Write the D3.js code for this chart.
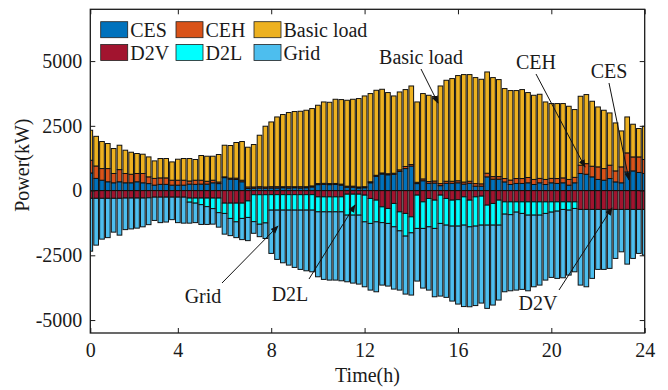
<!DOCTYPE html>
<html>
<head>
<meta charset="utf-8">
<script src="https://cdn.jsdelivr.net/npm/d3@7"></script>
<style>
  body { margin: 0; background: #fff; }
  svg { display: block; }
  text { font-family: "Liberation Serif", "Times New Roman", serif; fill: #1a1a1a; }
</style>
</head>
<body>
<svg id="chart" width="668" height="390"></svg>
<script>
// 96 quarter-hour dispatch slots, power in kW (discharge/supply positive, absorption negative)
const ces = [680,470,400,340,300,340,300,300,340,300,270,210,240,240,210,210,210,250,240,250,250,300,270,500,
  440,430,340,80,90,100,90,100,100,110,100,110,100,110,140,230,240,230,235,210,130,130,100,110,
  300,550,640,610,630,740,850,945,270,380,280,290,190,280,280,300,250,280,170,170,530,440,440,335,
  235,275,275,300,235,300,235,300,275,300,210,300,660,630,530,430,400,465,335,300,720,760,700,660];
const ceh = [490,480,450,510,360,470,360,330,320,360,260,260,250,250,190,190,190,120,160,150,110,100,60,30,
  40,50,60,60,50,50,50,50,50,40,50,40,50,40,40,40,40,40,40,40,40,40,40,40,
  40,40,40,40,40,60,80,60,50,70,70,80,80,80,80,80,80,80,100,90,140,100,100,130,
  170,190,190,205,195,170,195,170,190,190,220,210,320,410,410,485,450,515,425,615,735,540,600,540];
const basicLoad = [1160,1145,1044,967,964,941,899,851,771,744,770,676,748,748,707,811,838,868,800,954,967,927,1063,1221,
  1260,1376,1494,1534,1638,1987,2345,2500,2693,2786,2863,2902,2913,2952,2987,3025,3142,3140,3251,3264,3318,3356,3413,3504,
  3406,3283,3232,3135,2984,3008,2970,3034,3102,3296,3330,3260,3769,3899,3965,4061,4149,4119,4093,4038,3910,3823,3746,3474,
  3457,3397,3435,3280,3250,3249,2992,2890,2895,2870,2826,2619,2662,2667,2509,2314,2252,2018,1852,1388,1388,1262,1096,1285];
const d2v = [-300,-300,-300,-300,-300,-300,-290,-290,-290,-290,-280,-255,-255,-255,-255,-255,-255,-290,-290,-290,-290,-290,-290,-486,
  -486,-486,-486,-400,-160,-160,-160,-158,-158,-158,-158,-158,-158,-158,-158,-243,-243,-243,-243,-243,-140,-140,-140,-177,
  -305,-370,-629,-691,-498,-822,-883,-1015,-177,-436,-305,-370,-177,-305,-370,-351,-243,-370,-243,-216,-563,-498,-370,-436,
  -436,-436,-436,-436,-436,-436,-436,-436,-436,-436,-436,-436,-729,-729,-729,-729,-729,-729,-729,-729,-729,-729,-729,-729];
const d2l = [0,0,0,0,0,0,0,0,0,0,0,0,0,0,0,0,0,-158,-196,-254,-331,-408,-563,-397,
  -590,-722,-590,-638,-1040,-1140,-1090,-598,-598,-598,-598,-598,-598,-598,-598,-579,-579,-579,-579,-579,-809,-809,-809,-1031,
  -964,-838,-609,-578,-902,-733,-876,-617,-1285,-1026,-1095,-1092,-1092,-1030,-1003,-1022,-1092,-1030,-1130,-1119,-772,-837,-965,-474,
  -494,-397,-447,-513,-513,-513,-447,-397,-359,-293,-320,-255,0,0,0,0,0,0,0,0,0,0,0,0];
const grid = [-2040,-1807,-1575,-1517,-1305,-1421,-1218,-1191,-1161,-1110,-1036,-899,-983,-960,-868,-983,-1003,-810,-752,-764,-687,-598,-559,-799,
  -664,-609,-818,-895,-450,-480,-600,-1671,-1902,-2033,-2122,-2211,-2288,-2342,-2381,-2507,-2608,-2635,-2635,-2662,-2573,-2624,-2662,-2507,
  -2574,-2700,-2412,-2419,-2404,-2288,-2238,-2403,-2033,-2303,-2443,-2639,-2805,-2789,-2894,-3010,-3144,-3087,-3068,-3009,-3214,-3086,-2893,-2998,
  -2940,-3010,-2933,-2921,-2766,-2701,-2574,-2520,-2596,-2639,-2508,-2446,-2921,-2986,-2662,-2315,-2315,-2276,-1891,-1636,-2111,-1891,-1698,-1763];

const seriesKeys = ["CES", "CEH", "Basic load", "D2V", "D2L", "Grid"];
const seriesData = [ces, ceh, basicLoad, d2v, d2l, grid];
const seriesColors = ["#0072BD", "#D95319", "#EDB120", "#A2142F", "#00FFFF", "#4DBEEE"];

const hourLabels = [0, 4, 8, 12, 16, 20, 24];
const hourSlots = [1, 16, 32, 48, 64, 80, 96];
const powerTicks = [-5000, -2500, 0, 2500, 5000];

const svg = d3.select("#chart");
const plot = { left: 90.3, right: 644.7, top: 9.3, bottom: 333 };

const x = d3.scaleLinear().domain([1, 96]).range([plot.left, plot.right]);
const y = d3.scaleLinear().domain([-5500, 7000]).range([plot.bottom, plot.top]);

// rows for the stack: one object per slot
const rows = ces.map((_, i) => {
  const r = { slot: i + 1 };
  seriesKeys.forEach((k, j) => r[k] = seriesData[j][i]);
  return r;
});
const stacked = d3.stack().keys(seriesKeys).offset(d3.stackOffsetDiverging)(rows);

svg.append("defs").append("clipPath").attr("id", "plotClip")
  .append("rect").attr("x", plot.left).attr("y", plot.top)
  .attr("width", plot.right - plot.left).attr("height", plot.bottom - plot.top);

const barW = 0.8 * (x(2) - x(1));
const barsG = svg.append("g").attr("clip-path", "url(#plotClip)");
stacked.forEach((layer, j) => {
  barsG.append("g").attr("fill", seriesColors[j])
    .selectAll("rect").data(layer).join("rect")
    .attr("x", d => x(d.data.slot) - barW / 2)
    .attr("width", barW)
    .attr("y", d => y(Math.max(d[0], d[1])))
    .attr("height", d => Math.abs(y(d[0]) - y(d[1])))
    .attr("stroke", "#111")
    .attr("stroke-width", 1);
});

// zero line
barsG.append("line")
  .attr("x1", plot.left).attr("x2", plot.right)
  .attr("y1", y(0)).attr("y2", y(0))
  .attr("stroke", "#111").attr("stroke-width", 1);

// axes with inward ticks on all four sides
const fmt = d => String(d);
const styleAxis = g => {
  g.select(".domain").remove();
  g.selectAll(".tick line").attr("stroke", "#1a1a1a").attr("stroke-width", 1);
  g.selectAll(".tick text").attr("font-size", 20).attr("fill", "#1a1a1a");
};
svg.append("g").attr("transform", `translate(${plot.left},0)`)
  .call(d3.axisLeft(y).tickValues(powerTicks).tickFormat(fmt).tickSize(-5).tickPadding(8))
  .call(styleAxis);
svg.append("g").attr("transform", `translate(${plot.right},0)`)
  .call(d3.axisRight(y).tickValues(powerTicks).tickFormat("").tickSize(-5))
  .call(styleAxis);
svg.append("g").attr("transform", `translate(0,${plot.bottom})`)
  .call(d3.axisBottom(x).tickValues(hourSlots).tickFormat((d, i) => hourLabels[i]).tickSize(-5).tickPadding(10))
  .call(styleAxis);
svg.append("g").attr("transform", `translate(0,${plot.top})`)
  .call(d3.axisTop(x).tickValues(hourSlots).tickFormat("").tickSize(-5))
  .call(styleAxis);

svg.append("rect")
  .attr("x", plot.left).attr("y", plot.top)
  .attr("width", plot.right - plot.left).attr("height", plot.bottom - plot.top)
  .attr("fill", "none").attr("stroke", "#1a1a1a").attr("stroke-width", 1.3);

// axis titles
svg.append("text").attr("x", (plot.left + plot.right) / 2).attr("y", 382)
  .attr("text-anchor", "middle").attr("font-size", 20).text("Time(h)");
svg.append("text").attr("transform", `translate(29,${(plot.top + plot.bottom) / 2 - 6}) rotate(-90)`)
  .attr("text-anchor", "middle").attr("font-size", 20).text("Power(kW)");

// legend: two rows of three
const legendPos = [[100.7, 21.7], [176, 21.7], [254, 21.7], [100.7, 44.5], [176, 44.5], [254, 44.5]];
const legend = svg.append("g");
seriesKeys.forEach((k, j) => {
  const [lx, ly] = legendPos[j];
  legend.append("rect").attr("x", lx).attr("y", ly).attr("width", 27).attr("height", 16)
    .attr("fill", seriesColors[j]).attr("stroke", "#222").attr("stroke-width", 0.8);
  legend.append("text").attr("x", lx + 29.5).attr("y", ly + 15.5).attr("font-size", 20).text(k);
});

// callout labels with arrows
const defs = svg.select("defs");
defs.append("marker").attr("id", "arrowHead").attr("viewBox", "0 0 10 10")
  .attr("refX", 9).attr("refY", 5).attr("markerWidth", 8).attr("markerHeight", 8)
  .attr("orient", "auto-start-reverse").attr("markerUnits", "userSpaceOnUse")
  .append("path").attr("d", "M0,1 L10,5 L0,9 Z").attr("fill", "#111");

const callouts = [
  { label: "Basic load", tx: 421, ty: 64, from: [421, 69], to: [438, 103] },
  { label: "CEH", tx: 536, ty: 69, from: [536, 74], to: [585, 167] },
  { label: "CES", tx: 609, ty: 78, from: [609, 83], to: [629, 180] },
  { label: "Grid", tx: 203, ty: 303, from: [222, 283], to: [278, 226] },
  { label: "D2L", tx: 290, ty: 301, from: [309, 279], to: [355, 205] },
  { label: "D2V", tx: 538, ty: 310, from: [559, 290], to: [612, 208] }
];
callouts.forEach(c => {
  svg.append("line")
    .attr("x1", c.from[0]).attr("y1", c.from[1]).attr("x2", c.to[0]).attr("y2", c.to[1])
    .attr("stroke", "#111").attr("stroke-width", 1).attr("marker-end", "url(#arrowHead)");
  svg.append("text").attr("x", c.tx).attr("y", c.ty).attr("text-anchor", "middle")
    .attr("font-size", 20).text(c.label);
});
</script>
</body>
</html>
